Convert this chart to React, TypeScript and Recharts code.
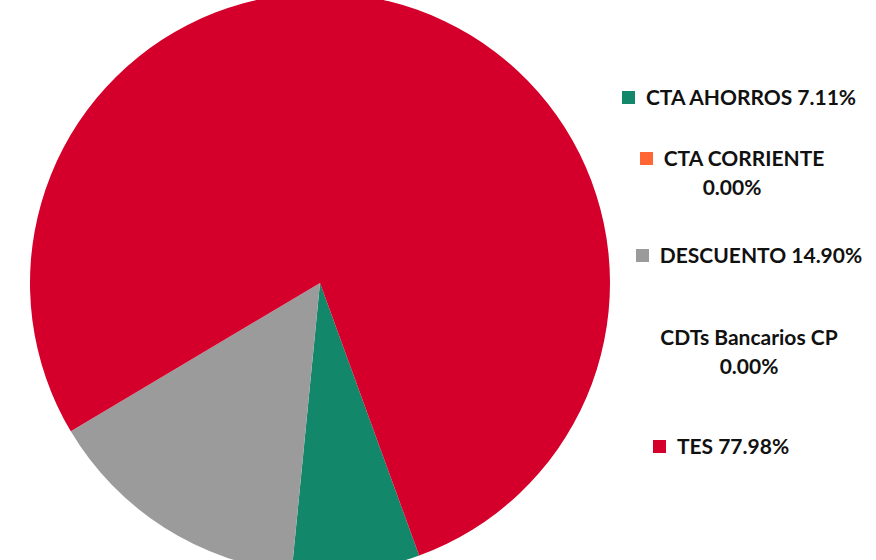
import { PieChart, Pie, Cell, Legend } from 'recharts'

// composición del portafolio
const categories = ['CTA AHORROS', 'CTA CORRIENTE', 'DESCUENTO', 'CDTs Bancarios CP', 'TES']
const shares = [7.11, 0.0, 14.9, 0.0, 77.98]
const colors = ['#13876A', '#FF6633', '#9B9B9B', '', '#D4002B']

// ajustes de la leyenda (espacio arriba y corrimiento horizontal)
const legendGaps = [0, 32, 39, 53, 51]
const legendShift = [-3, -10, 7, 7, -21]

const data = categories.map((name, i) => ({ name, value: shares[i] }))

const FONT = 'Lato, "Open Sans", sans-serif'

const renderLegend = () => (
  <div style={{ width: 238, fontFamily: FONT, fontWeight: 700, fontSize: 21, lineHeight: '29px', color: '#111' }}>
    {data.map((d, i) => (
      <div
        key={d.name}
        style={{ textAlign: 'center', marginTop: legendGaps[i], position: 'relative', left: legendShift[i] }}
      >
        {colors[i] && (
          <span
            style={{
              display: 'inline-block',
              width: 13,
              height: 13,
              background: colors[i],
              marginRight: 11,
              verticalAlign: 'middle',
              position: 'relative',
              top: -2,
            }}
          />
        )}
        {`${d.name} ${d.value.toFixed(2)}%`}
      </div>
    ))}
  </div>
)

export default function App() {
  return (
    <div style={{ position: 'absolute', left: 0, top: 0, width: 876, height: 560, background: '#fff' }}>
      <PieChart width={876} height={560} margin={{ top: 0, right: 0, bottom: 0, left: 0 }}>
        <Pie
          data={data}
          dataKey="value"
          nameKey="name"
          cx={320}
          cy={283}
          outerRadius={290}
          startAngle={-70}
          endAngle={-430}
          stroke="none"
          isAnimationActive={false}
        >
          {data.map((d, i) => (
            <Cell key={d.name} fill={colors[i] || '#FFFFFF'} />
          ))}
        </Pie>
        <Legend
          content={renderLegend}
          layout="vertical"
          wrapperStyle={{ position: 'absolute', left: 623, top: 82, width: 238 }}
        />
      </PieChart>
    </div>
  )
}
